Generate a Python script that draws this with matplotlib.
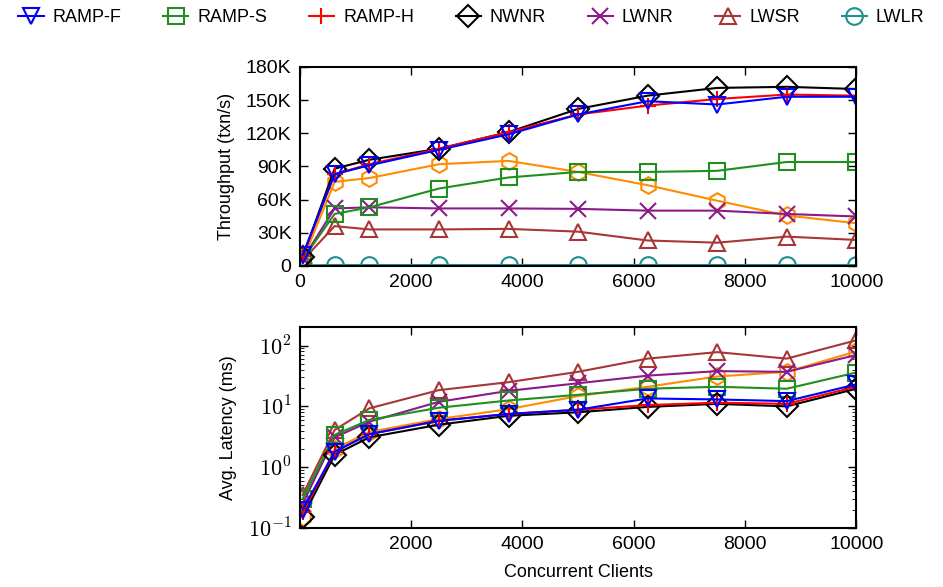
import matplotlib
matplotlib.use('Agg')
import matplotlib.pyplot as plt
from matplotlib.ticker import FixedLocator, LogLocator, NullFormatter

plt.rcParams['font.family'] = ['Liberation Sans', 'DejaVu Sans']
plt.rcParams['font.size'] = 14
plt.rcParams['mathtext.fontset'] = 'cm'

clients = [50, 625, 1250, 2500, 3750, 5000, 6250, 7500, 8750, 10000]

# throughput, thousands of txn/s
thr_ramp_f = [10, 83, 91, 105, 119, 137, 149, 146, 153, 153]
thr_ramp_s = [6, 47, 53, 70, 80, 85, 85, 86, 94, 94]
thr_ramp_h = [9, 83, 92, 106, 121, 137, 145, 151, 155, 154]
thr_nwnr = [8, 88, 96, 106, 121, 142, 154, 161, 162, 160]
thr_lwnr = [6, 52, 53, 52, 52, 51.6, 50, 50, 47, 44.7]
thr_lwsr = [5, 36, 33, 33, 33.5, 31, 23, 21, 26.5, 23.5]
thr_lwlr = [0.5, 0.8, 0.8, 0.8, 0.8, 0.8, 0.8, 0.8, 0.8, 0.8]
thr_other = [5, 76, 79.5, 92, 95, 85, 73, 59, 45.6, 38.6]

# average latency, ms
lat_ramp_f = [0.2, 1.8, 3.5, 5.8, 7.5, 8.8, 13.5, 13, 12.2, 23]
lat_ramp_s = [0.3, 3.4, 6.0, 9.5, 12.5, 15.5, 19.5, 21, 19.5, 36]
lat_ramp_h = [0.18, 1.8, 3.5, 5.8, 7.5, 8.8, 10.5, 11.5, 11, 21]
lat_nwnr = [0.15, 1.6, 3.1, 5.0, 7.0, 8.0, 9.8, 11, 10, 19.5]
lat_lwnr = [0.25, 3.1, 5.6, 11.9, 18, 24, 32, 38, 37, 70]
lat_lwsr = [0.35, 4.1, 9.3, 18.5, 25, 37, 61, 78, 61, 122]
lat_other = [0.15, 2.0, 3.8, 6.2, 9, 14.8, 21, 31, 37, 80]

names = ['RAMP-F', 'RAMP-S', 'RAMP-H', 'NWNR', 'LWNR', 'LWSR', 'LWLR']
colors = ['#0000ff', '#1f8f1f', '#ff0000', '#000000', '#8b1a8b', '#a83636', '#1f8f8f']
markers = ['v', 's', '+', 'D', 'x', '^', 'o']
sizes = [12, 12, 12, 11, 12, 12, 12]

fig = plt.figure(figsize=(9.43, 5.87), dpi=100)
ax1 = fig.add_axes([0.318, 0.547, 0.590, 0.339])
ax2 = fig.add_axes([0.318, 0.1005, 0.590, 0.342])

thr = [thr_ramp_f, thr_ramp_s, thr_ramp_h, thr_nwnr, thr_lwnr, thr_lwsr, thr_lwlr]
lat = [lat_ramp_f, lat_ramp_s, lat_ramp_h, lat_nwnr, lat_lwnr, lat_lwsr, None]

# draw order: orange first, blue last so it sits on top
ax1.plot(clients, thr_other, color='#ff8c00', marker='h', ms=12, mfc='none', mew=1.5, lw=1.5)
ax2.plot(clients, lat_other, color='#ff8c00', marker='h', ms=12, mfc='none', mew=1.5, lw=1.5)
handles = {}
for i in [6, 5, 4, 1, 3, 2, 0]:
    h, = ax1.plot(clients, thr[i], color=colors[i], marker=markers[i], ms=sizes[i],
                  mfc='none', mew=1.5, lw=1.5, label=names[i])
    handles[i] = h
    if lat[i] is not None:
        ax2.plot(clients, lat[i], color=colors[i], marker=markers[i], ms=sizes[i],
                 mfc='none', mew=1.5, lw=1.5)

ax1.set_xlim(0, 10000)
ax1.set_ylim(0, 180)
ax1.set_xticks(range(0, 10001, 2000))
ax1.set_yticks(range(0, 181, 30))
ax1.set_yticklabels(['0'] + ['%dK' % v for v in range(30, 181, 30)])
ax1.set_ylabel('Throughput (txn/s)', fontsize=13, labelpad=8)

ax2.set_xlim(0, 10000)
ax2.set_yscale('log')
ax2.set_ylim(0.1, 200)
ax2.set_xticks(range(2000, 10001, 2000))
ax2.yaxis.set_major_locator(FixedLocator([0.1, 1, 10, 100]))
ax2.set_yticklabels([r'$10^{-1}$', r'$10^{0}$', r'$10^{1}$', r'$10^{2}$'], fontsize=16)
ax2.yaxis.set_minor_locator(LogLocator(base=10, subs=range(2, 10)))
ax2.yaxis.set_minor_formatter(NullFormatter())
ax2.set_ylabel('Avg. Latency (ms)', fontsize=13, labelpad=8)
ax2.set_xlabel('Concurrent Clients', fontsize=13, labelpad=8)

for ax in (ax1, ax2):
    ax.tick_params(direction='in', top=True, right=True, length=6, width=1, pad=6)
    ax.tick_params(which='minor', direction='in', right=True, length=3)
    for s in ax.spines.values():
        s.set_linewidth(1.5)

fig.legend([handles[i] for i in range(7)], names, loc='upper center',
           bbox_to_anchor=(0.5, 1.012), ncol=7, frameon=False, handlelength=1.4,
           columnspacing=2.3, handletextpad=0.5, fontsize=13)

fig.savefig('out.png', dpi=100)
